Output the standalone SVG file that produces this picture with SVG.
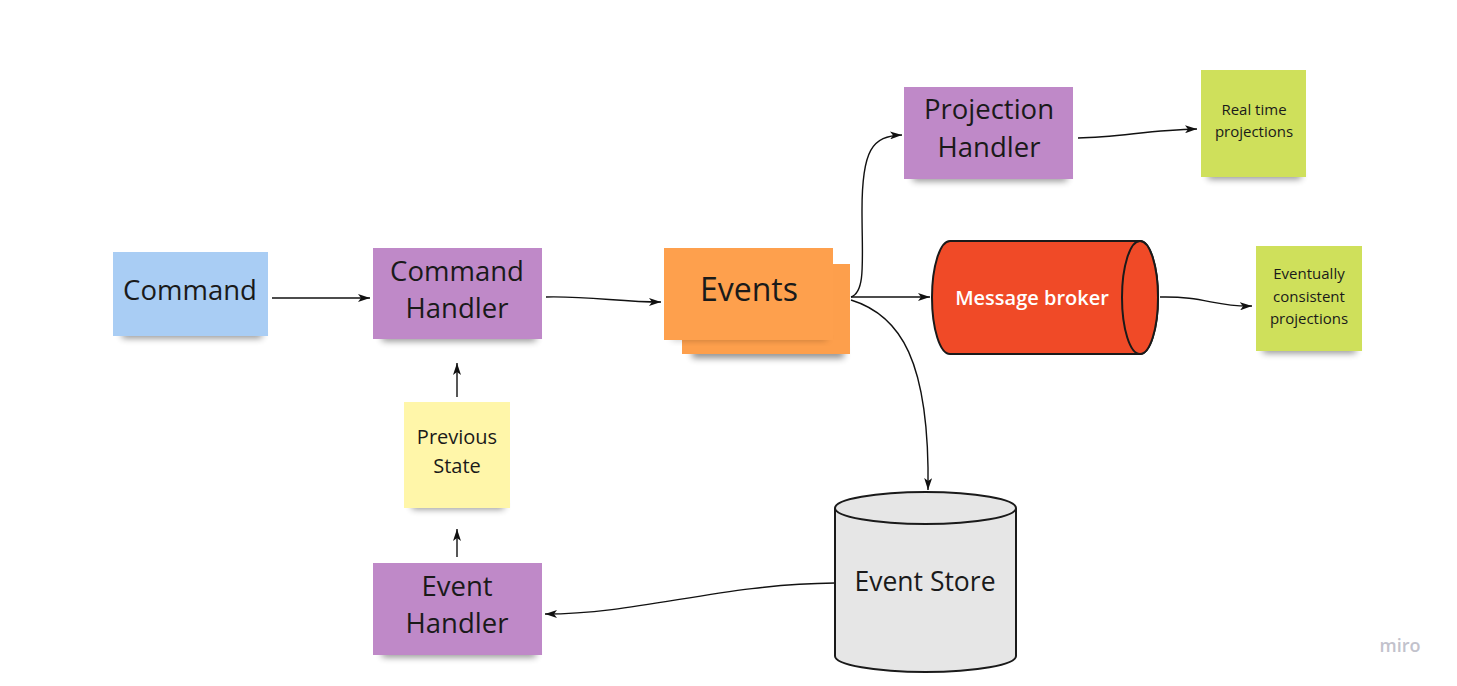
<svg xmlns="http://www.w3.org/2000/svg" width="1457" height="686" viewBox="0 0 1457 686">
<defs>
<style>
text{font-family:"Open Sans","Noto Sans","DejaVu Sans",sans-serif;fill:#1a1a1a;text-anchor:middle}
.big{font-size:27.5px}
.mid{font-size:20px}
.sm{font-size:15px}
.conn{fill:none;stroke:#111;stroke-width:1.4}
.purple{fill:#bf89c8}
.shadow{fill:#000;opacity:0.45;filter:url(#blur)}
</style>
<filter id="blur" x="-20%" y="-100%" width="140%" height="300%"><feGaussianBlur stdDeviation="3.5"/></filter>
<marker id="arr" viewBox="0 0 12 8" refX="12" refY="4" markerWidth="12" markerHeight="8" markerUnits="userSpaceOnUse" orient="auto"><path d="M0,0 L12,4 L0,8 L3,4 Z" fill="#111"/></marker>
</defs>
<rect width="1457" height="686" fill="#fff"/>

<g id="connectors">
<path class="conn" marker-end="url(#arr)" d="M272,298 L370,298"/>
<path class="conn" marker-end="url(#arr)" d="M546,297 C590,296 620,302 661,302"/>
<path class="conn" marker-end="url(#arr)" d="M851,297 C866,292 862,260 862,210 C862,150 872,136 902,135"/>
<path class="conn" marker-end="url(#arr)" d="M851,297 L930,297"/>
<path class="conn" marker-end="url(#arr)" d="M851,300 C900,315 930,360 928,490"/>
<path class="conn" marker-end="url(#arr)" d="M1078,138 C1120,137 1150,130 1197,129"/>
<path class="conn" marker-end="url(#arr)" d="M1160,297 C1205,296 1215,307 1252,306"/>
<path class="conn" marker-end="url(#arr)" d="M835,583 C720,584 640,614 545,614"/>
<path class="conn" marker-end="url(#arr)" d="M457,557 L457,529"/>
<path class="conn" marker-end="url(#arr)" d="M457,397 L457,363"/>
</g>

<g id="command">
<rect class="shadow" x="122" y="330" width="140" height="8"/>
<rect x="113" y="252" width="155" height="84" fill="#a9cdf4"/>
<text class="big" x="190" y="300">Command</text>
</g>

<g id="command-handler">
<rect class="shadow" x="382" y="333" width="154" height="8"/>
<rect x="373" y="248" width="169" height="91" class="purple"/>
<text class="big" x="457" y="281">Command</text>
<text class="big" x="457" y="318">Handler</text>
</g>

<g id="events">
<rect class="shadow" x="692" y="348" width="152" height="10"/>
<rect x="682" y="264" width="168" height="90" fill="#fd9f4c"/>
<rect class="shadow" x="672" y="334" width="155" height="6" style="opacity:0.25"/>
<rect x="664" y="248" width="169" height="92" fill="#fea04d"/>
<text x="749" y="301" style="font-size:32px">Events</text>
</g>

<g id="projection-handler">
<rect class="shadow" x="913" y="173" width="154" height="8"/>
<rect x="904" y="87" width="169" height="92" class="purple"/>
<text class="big" x="989" y="119">Projection</text>
<text class="big" x="989" y="157">Handler</text>
</g>

<g id="real-time-projections">
<rect class="shadow" x="1208" y="171" width="93" height="8"/>
<rect x="1201" y="70" width="105" height="107" fill="#cfe05b"/>
<text class="sm" x="1254" y="115">Real time</text>
<text class="sm" x="1254" y="137">projections</text>
</g>

<g id="message-broker">
<path d="M950,241 L1140,241 A18,56.5 0 0 1 1140,354 L950,354 A18,56.5 0 0 1 950,241 Z" fill="#f04a27" stroke="#1a1a1a" stroke-width="2"/>
<ellipse cx="1140" cy="297.5" rx="18" ry="56.5" fill="#f04a27" stroke="#1a1a1a" stroke-width="2"/>
<text x="1032" y="305" style="font-size:20px;fill:#fff;font-weight:600">Message broker</text>
</g>

<g id="eventually-consistent-projections">
<rect class="shadow" x="1263" y="345" width="93" height="8"/>
<rect x="1256" y="246" width="106" height="105" fill="#cfe05b"/>
<text class="sm" x="1309" y="279">Eventually</text>
<text class="sm" x="1309" y="302">consistent</text>
<text class="sm" x="1309" y="324">projections</text>
</g>

<g id="previous-state">
<rect class="shadow" x="412" y="501" width="92" height="8"/>
<rect x="404" y="402" width="106" height="106" fill="#fff6a9"/>
<text class="mid" x="457" y="444">Previous</text>
<text class="mid" x="457" y="473">State</text>
</g>

<g id="event-handler">
<rect class="shadow" x="382" y="649" width="154" height="8"/>
<rect x="373" y="563" width="169" height="92" class="purple"/>
<text class="big" x="457" y="596">Event</text>
<text class="big" x="457" y="633">Handler</text>
</g>

<g id="event-store">
<path d="M835,508 L835,656 A90.5,16 0 0 0 1016,656 L1016,508" fill="#e6e6e6" stroke="#1a1a1a" stroke-width="2"/>
<ellipse cx="925.5" cy="508" rx="90.5" ry="16" fill="#e6e6e6" stroke="#1a1a1a" stroke-width="2"/>
<text x="925" y="591" style="font-size:26.5px">Event Store</text>
</g>

<text x="1400" y="652" style="font-size:18px;fill:#c2c2cc;font-weight:600">miro</text>
</svg>
